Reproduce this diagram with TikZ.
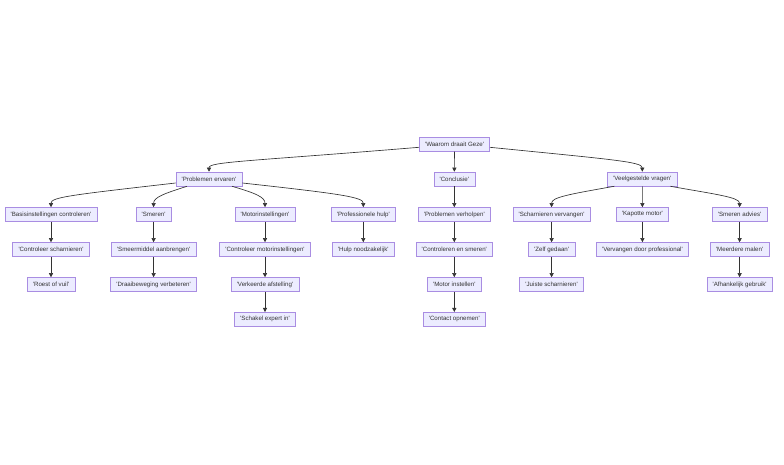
\documentclass[tikz,border=0pt]{standalone}
\usepackage{fontspec}
\newfontfamily\nf{Liberation Sans}
\usetikzlibrary{arrows.meta}
\definecolor{boxfill}{HTML}{ECECFF}
\definecolor{boxline}{HTML}{9370DB}
\definecolor{txt}{HTML}{333333}
\begin{document}
\begin{tikzpicture}[x=1pt,y=-1pt,
  box/.style={draw=boxline!80,fill=boxfill,line width=0.55pt,text=txt,
    font={\nf\fontsize{6.15}{7}\selectfont},inner xsep=5.8pt,inner ysep=0pt,
    minimum height=14pt},
  edge/.style={draw=txt,line width=0.65pt,-{Triangle[length=4.2pt,width=4.2pt]}}]
\useasboundingbox[fill=white] (0,0) rectangle (784,464);
% row 0
\node[box] (root) at (454.5,144.3) {'Waarom draait Geze'};
% row 1
\node[box] (pe) at (209,179) {'Problemen ervaren'};
\node[box] (cl) at (454.3,179) {'Conclusie'};
\node[box] (vv) at (642.3,179) {'Veelgestelde vragen'};
% row 2
\node[box] (bc) at (51,214.5) {'Basisinstellingen controleren'};
\node[box] (sm) at (153.6,214.5) {'Smeren'};
\node[box] (mo) at (265,214.5) {'Motorinstellingen'};
\node[box] (ph) at (363.3,214.5) {'Professionele hulp'};
\node[box] (pv) at (454.3,214.5) {'Problemen verholpen'};
\node[box] (sv) at (551.6,214.5) {'Scharnieren vervangen'};
\node[box] (km) at (642.4,214.5) {'Kapotte motor'};
\node[box] (sa) at (739.6,214.5) {'Smeren advies'};
% row 3
\node[box] (cs) at (51,249.5) {'Controleer scharnieren'};
\node[box] (sma) at (153.6,249.5) {'Smeermiddel aanbrengen'};
\node[box] (cmi) at (265,249.5) {'Controleer motorinstellingen'};
\node[box] (hn) at (363.3,249.5) {'Hulp noodzakelijk'};
\node[box] (ces) at (454.3,249.5) {'Controleren en smeren'};
\node[box] (zg) at (551.6,249.5) {'Zelf gedaan'};
\node[box] (vdp) at (642.4,249.5) {'Vervangen door professional'};
\node[box] (mm) at (739.6,249.5) {'Meerdere malen'};
% row 4
\node[box] (rv) at (51,284.5) {'Roest of vuil'};
\node[box] (db) at (153.6,284.5) {'Draaibeweging verbeteren'};
\node[box] (va) at (265,284.5) {'Verkeerde afstelling'};
\node[box] (mi) at (454.3,284.5) {'Motor instellen'};
\node[box] (js) at (551.6,284.5) {'Juiste scharnieren'};
\node[box] (ag) at (739.6,284.5) {'Afhankelijk gebruik'};
% row 5
\node[box] (se) at (265,319.3) {'Schakel expert in'};
\node[box] (co) at (454.3,319.3) {'Contact opnemen'};
% curved edges
\draw[edge] ([yshift=-3pt]root.west) .. controls +(-170,14) and +(0,-10) .. (pe.north);
\draw[edge] ([yshift=-3pt]root.east) .. controls +(120,12) and +(0,-10) .. (vv.north);
\draw[edge] ([yshift=-4pt]pe.west) .. controls +(-105,12) and +(0,-10) .. (bc.north);
\draw[edge] ([xshift=-22pt]pe.south) .. controls +(-22,7) and +(0,-10) .. (sm.north);
\draw[edge] ([xshift=23pt]pe.south) .. controls +(24,7) and +(0,-10) .. (mo.north);
\draw[edge] ([yshift=-4pt]pe.east) .. controls +(100,11) and +(0,-10) .. (ph.north);
\draw[edge] ([xshift=-28pt]vv.south) .. controls +(-45,8) and +(0,-10) .. (sv.north);
\draw[edge] ([xshift=28pt]vv.south) .. controls +(45,8) and +(0,-10) .. (sa.north);
% straight edges
\draw[edge] (root) -- (cl);
\draw[edge] (vv) -- (km);
\draw[edge] (cl) -- (pv);
\draw[edge] (pv) -- (ces);
\draw[edge] (ces) -- (mi);
\draw[edge] (mi) -- (co);
\draw[edge] (bc) -- (cs);
\draw[edge] (cs) -- (rv);
\draw[edge] (sm) -- (sma);
\draw[edge] (sma) -- (db);
\draw[edge] (mo) -- (cmi);
\draw[edge] (cmi) -- (va);
\draw[edge] (va) -- (se);
\draw[edge] (ph) -- (hn);
\draw[edge] (sv) -- (zg);
\draw[edge] (zg) -- (js);
\draw[edge] (km) -- (vdp);
\draw[edge] (sa) -- (mm);
\draw[edge] (mm) -- (ag);
\end{tikzpicture}
\end{document}
